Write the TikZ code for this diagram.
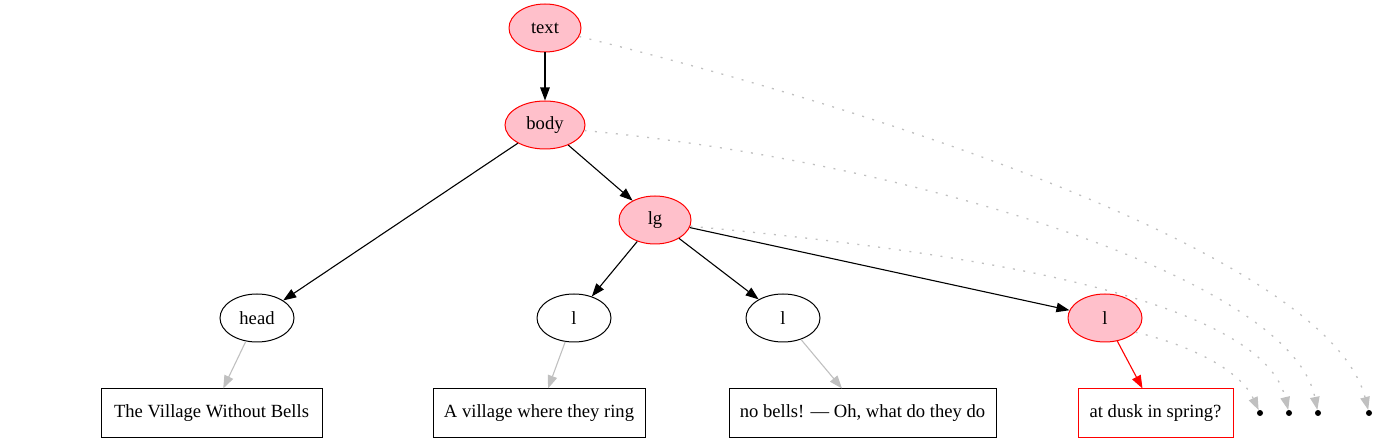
\documentclass[tikz,border=0pt]{standalone}
\usepackage{fontspec}
\setmainfont{Liberation Serif}
\usetikzlibrary{shapes.geometric,arrows.meta}
\definecolor{pinkfill}{HTML}{FFC0CB}
\definecolor{edgegray}{HTML}{C0C0C0}
\tikzset{
  base/.style={font=\fontsize{18.6}{22}\selectfont, line width=1pt, inner sep=0pt},
  oval/.style={base, ellipse, draw=black, minimum width=74pt, minimum height=48pt},
  hot/.style={oval, draw=red, fill=pinkfill},
  textbox/.style={base, rectangle, draw=black, minimum height=48pt, inner xsep=10pt},
  hotbox/.style={textbox, draw=red},
  dotpt/.style={circle, fill=black, inner sep=0pt, minimum size=6pt},
  tree/.style={line width=1.1pt, -{Triangle[length=13pt,width=9.5pt]}},
  grayedge/.style={tree, draw=edgegray, -{Triangle[length=13pt,width=9.5pt,fill=edgegray]}},
  rededge/.style={tree, draw=red},
  follow/.style={line width=1.3pt, draw=edgegray, dash pattern=on 2pt off 8.5pt,
     -{Triangle[length=13pt,width=9.5pt,fill=edgegray]}}
}
\begin{document}
\begin{tikzpicture}[x=1pt,y=-1pt]
\useasboundingbox (0,0) rectangle (1376,443);
\node[hot, minimum width=72pt] (text) at (545,28) {text};
\node[hot, minimum width=80pt] (body) at (545,125) {body};
\node[hot, minimum width=72pt] (lg) at (655,220) {lg};
\node[oval] (head) at (257,318) {head};
\node[oval] (l1) at (574,318) {l};
\node[oval] (l2) at (783,318) {l};
\node[hot] (l3) at (1105,318) {l};
\node[textbox, minimum width=221pt] (b1) at (211.5,413) {The Village Without Bells};
\node[textbox, minimum width=212pt] (b2) at (539,413) {A village where they ring};
\node[textbox, minimum width=267pt] (b3) at (862.5,413) {no bells! — Oh, what do they do};
\node[hotbox, minimum width=155pt] (b4) at (1155.5,413) {at dusk in spring?};
\node[dotpt] (d1) at (1260,413) {};
\node[dotpt] (d2) at (1289,413) {};
\node[dotpt] (d3) at (1318,413) {};
\node[dotpt] (d4) at (1369,413) {};
\draw[tree] (text) -- (body);
\draw[tree] (body) -- (head);
\draw[tree] (body) -- (lg);
\draw[tree] (lg) -- (l1);
\draw[tree] (lg) -- (l2);
\draw[tree] (lg) -- (l3);
\draw[grayedge] (head) -- (b1);
\draw[grayedge] (l1) -- (b2);
\draw[grayedge] (l2) -- (b3);
\draw[rededge] (l3) -- (b4);
\draw[follow] (text.-14) .. controls (900,115) and (1330,260) .. (d4);
\draw[follow] (body.-8) .. controls (900,160) and (1290,275) .. (d3);
\draw[follow] (lg.-10) .. controls (950,250) and (1260,295) .. (d2);
\draw[follow] (l3.-25) .. controls (1190,345) and (1240,370) .. (d1);
\end{tikzpicture}
\end{document}
